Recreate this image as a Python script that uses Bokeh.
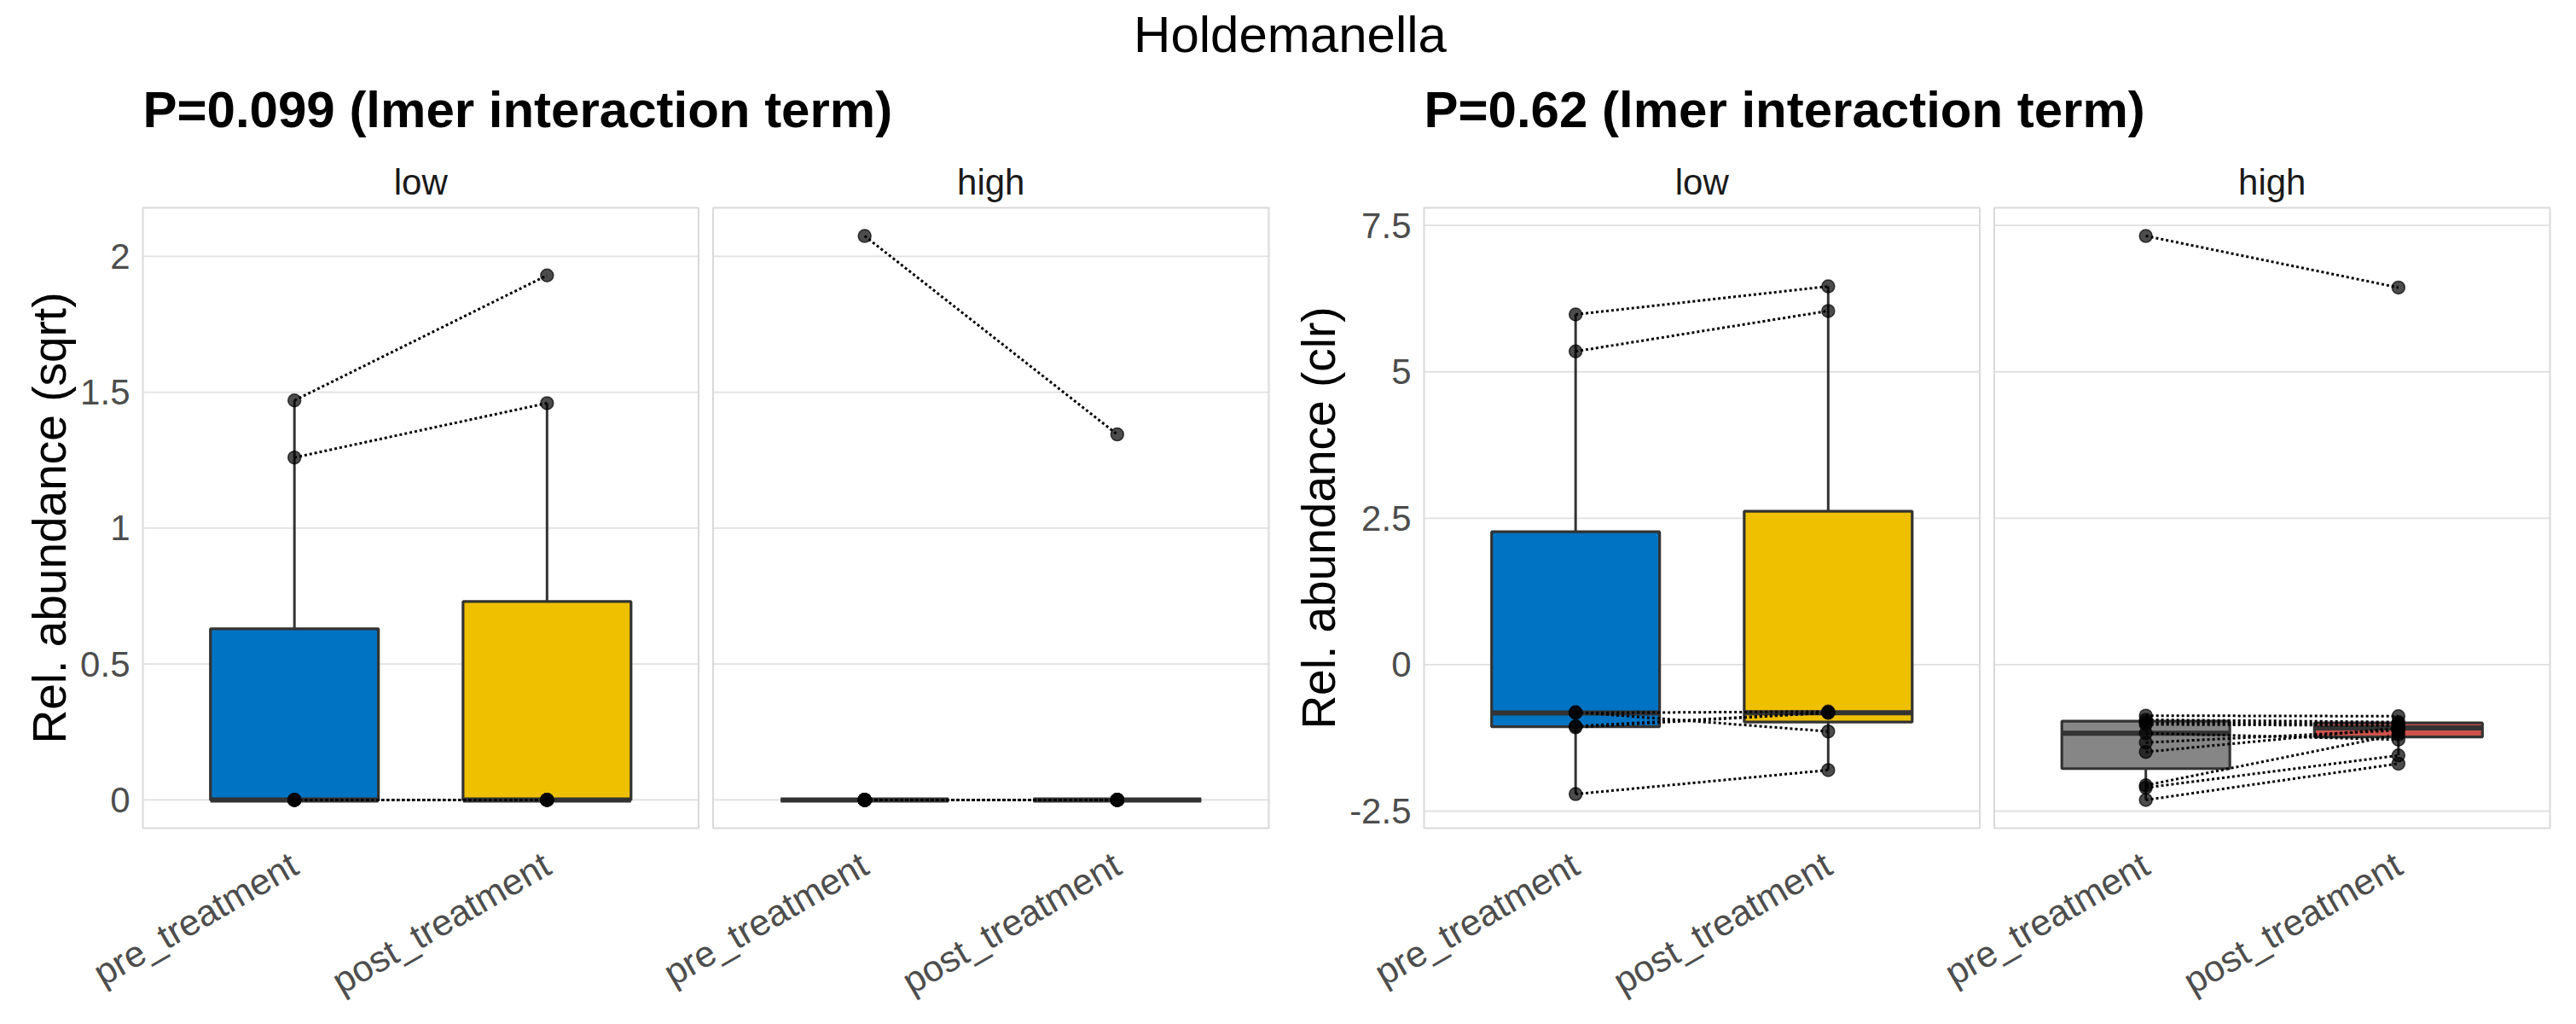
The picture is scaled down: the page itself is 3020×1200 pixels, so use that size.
import numpy as np
from math import pi
from bokeh.plotting import figure
from bokeh.models import Range1d, FixedTicker, CustomJSTickFormatter, Label, LinearAxis
from bokeh.layouts import column, row
from bokeh.embed import file_html
from bokeh.resources import INLINE

# ---------------- data ----------------
main_title = "Holdemanella"
groups = ["pre_treatment", "post_treatment"]
facets = ["low", "high"]
facet_colors = {"low": ["#0073C2", "#EFC000"], "high": ["#868686", "#CD534C"]}

sqrt_subtitle = "P=0.099 (lmer interaction term)"
sqrt_ylabel = "Rel. abundance (sqrt)"
sqrt_yticks = [0, 0.5, 1, 1.5, 2]
sqrt_low_pre = [1.47, 1.26, 0, 0, 0, 0, 0]
sqrt_low_post = [1.93, 1.46, 0, 0, 0, 0, 0]
sqrt_high_pre = [2.075, 0, 0, 0, 0, 0, 0, 0, 0, 0, 0]
sqrt_high_post = [1.345, 0, 0, 0, 0, 0, 0, 0, 0, 0, 0]

clr_subtitle = "P=0.62 (lmer interaction term)"
clr_ylabel = "Rel. abundance (clr)"
clr_yticks = [-2.5, 0, 2.5, 5, 7.5]
clr_low_pre = [5.98, 5.35, -0.81, -0.825, -1.05, -1.07, -2.21]
clr_low_post = [6.46, 6.04, -1.14, -0.80, -0.82, -0.82, -1.80]
clr_high_pre = [7.32, -0.87, -0.94, -0.99, -1.02, -1.17, -1.33, -1.49, -2.06, -2.10, -2.31]
clr_high_post = [6.44, -0.88, -0.98, -1.01, -1.04, -1.28, -1.12, -1.08, -1.19, -1.55, -1.69]

# ---------------- layout constants ----------------
FONT = "Liberation Sans"
PANEL_W = 1320          # px spanned by both facet panels
PANEL_H = 727           # px height of panels
EXT = 2                 # px of frame beyond panel borders
SPAN = 2.2              # discrete axis span per facet (0.4 .. 2.6)
GAP_PX = 17
PPU_X = (PANEL_W - GAP_PX) / (2 * SPAN)
GAP = GAP_PX / PPU_X
BOX_W = 0.665
HEAD_H = 162
FIG_H = 1200 - HEAD_H
TOP = 79
BOTTOM = FIG_H - TOP - (PANEL_H + 2 * EXT)
L_W, L_BL, L_BR = 1491, 165, 2
R_W, R_BL, R_BR = 1529, 176, 29


def box_stats(v):
    v = np.asarray(v, float)
    q1, med, q3 = np.percentile(v, [25, 50, 75])
    iqr = q3 - q1
    lo_w = v[v >= q1 - 1.5 * iqr].min()
    hi_w = v[v <= q3 + 1.5 * iqr].max()
    return q1, med, q3, lo_w, hi_w


def style_axis(ax, size, color):
    ax.axis_line_color = None
    ax.major_tick_line_color = None
    ax.minor_tick_line_color = None
    ax.major_tick_out = 0
    ax.minor_tick_out = 0
    ax.major_tick_in = 0
    ax.minor_tick_in = 0
    ax.major_label_text_font = FONT
    ax.major_label_text_font_size = size
    ax.major_label_text_color = color


def make_plot(ylabel, yticks, series, fig_width, border_left, border_right):
    allv = np.concatenate([np.asarray(s, float) for f in facets for s in series[f]])
    vmin, vmax = allv.min(), allv.max()
    pad = 0.05 * (vmax - vmin)
    ylo, yhi = vmin - pad, vmax + pad
    ppu_y = PANEL_H / (yhi - ylo)
    ey = EXT / ppu_y
    ex = EXT / PPU_X
    x0, x1 = 0.4, 0.4 + 2 * SPAN + GAP

    p = figure(width=fig_width, height=FIG_H,
               x_range=Range1d(x0 - ex, x1 + ex), y_range=Range1d(ylo - ey, yhi + ey),
               output_backend="svg", toolbar_location=None,
               min_border_left=border_left, min_border_right=border_right,
               min_border_top=TOP, min_border_bottom=BOTTOM)
    xax = p.xaxis[0]
    yax = p.yaxis[0]
    p.grid.visible = False
    p.outline_line_color = None
    p.background_fill_color = "white"
    p.border_fill_color = "white"

    xticks, centers = [], []
    for fi, f in enumerate(facets):
        left = x0 + fi * (SPAN + GAP)
        right = left + SPAN
        centers.append((left + right) / 2)
        p.segment(x0=[left] * len(yticks), x1=[right] * len(yticks), y0=yticks, y1=yticks,
                  line_color="#E0E0E0", line_width=1.8)
        p.quad(left=[left], right=[right], bottom=[ylo], top=[yhi],
               fill_color=None, line_color="#D9D9D9", line_width=2)
        pre, post = series[f]
        xs = []
        for gi, vals in enumerate([pre, post]):
            c = left + 0.6 + gi
            xs.append(c)
            xticks.append(c)
            q1, med, q3, lo_w, hi_w = box_stats(vals)
            p.segment(x0=[c, c], x1=[c, c], y0=[q3, lo_w], y1=[hi_w, q1],
                      line_color="#333333", line_width=3)
            p.quad(left=[c - BOX_W / 2], right=[c + BOX_W / 2], bottom=[q1], top=[q3],
                   fill_color=facet_colors[f][gi], line_color="#333333", line_width=3.2)
            p.segment(x0=[c - BOX_W / 2], x1=[c + BOX_W / 2], y0=[med], y1=[med],
                      line_color="#333333", line_width=6)
        for gi, vals in enumerate([pre, post]):
            p.scatter(x=[xs[gi]] * len(vals), y=vals, size=15,
                      fill_color="black", fill_alpha=0.7,
                      line_color="black", line_alpha=0.7, line_width=1.5)
        p.segment(x0=[xs[0]] * len(pre), y0=pre, x1=[xs[1]] * len(post), y1=post,
                  line_color="black", line_width=3, line_dash="3 3")

    # x axis (below)
    xax.ticker = FixedTicker(ticks=xticks)
    xax.formatter = CustomJSTickFormatter(args=dict(labels=groups),
                                          code="return labels[index % labels.length]")
    xax.major_label_orientation = pi / 6
    style_axis(xax, "43px", "#4D4D4D")
    xax.major_label_standoff = 37

    # y axis
    yax.ticker = FixedTicker(ticks=yticks)
    yax.formatter = CustomJSTickFormatter(code="return tick.toString()")
    style_axis(yax, "42px", "#4D4D4D")
    yax.major_label_standoff = 13
    yax.axis_label = ylabel
    yax.axis_label_text_font = FONT
    yax.axis_label_text_font_size = "55px"
    yax.axis_label_text_font_style = "normal"
    yax.axis_label_text_color = "black"
    yax.axis_label_standoff = 2

    # facet strip labels as a top axis
    strip = LinearAxis(ticker=FixedTicker(ticks=centers),
                       formatter=CustomJSTickFormatter(args=dict(labels=facets),
                                                       code="return labels[index]"))
    style_axis(strip, "42px", "#1A1A1A")
    strip.major_label_standoff = 5
    p.add_layout(strip, "above")
    return p


figL = make_plot(sqrt_ylabel, sqrt_yticks,
                 {"low": [sqrt_low_pre, sqrt_low_post], "high": [sqrt_high_pre, sqrt_high_post]},
                 L_W, L_BL, L_BR)
figR = make_plot(clr_ylabel, clr_yticks,
                 {"low": [clr_low_pre, clr_low_post], "high": [clr_high_pre, clr_high_post]},
                 R_W, R_BL, R_BR)

# header: main title and the two plot titles (pixel coordinates of the header canvas)
head_w = L_W + R_W
tfig = figure(width=head_w, height=HEAD_H, x_range=Range1d(0, head_w), y_range=Range1d(0, HEAD_H),
              x_axis_type=None, y_axis_type=None, output_backend="svg",
              toolbar_location=None, min_border=0)
tfig.grid.visible = False
tfig.outline_line_color = None
tfig.add_layout(Label(x=head_w / 2 + 2, y=HEAD_H - 40, text=main_title, text_align="center",
                      text_baseline="alphabetic", text_font=FONT,
                      text_font_size="60px", text_color="black"))
for sx, sub in [(L_BL + EXT, sqrt_subtitle), (L_W + R_BL + EXT, clr_subtitle)]:
    tfig.add_layout(Label(x=sx, y=HEAD_H - 128, text=sub, text_align="left",
                          text_baseline="alphabetic", text_font=FONT,
                          text_font_size="60px", text_font_style="bold",
                          text_color="black"))

layout = column(tfig, row(figL, figR))
open("out.html", "w").write(file_html(layout, INLINE))
